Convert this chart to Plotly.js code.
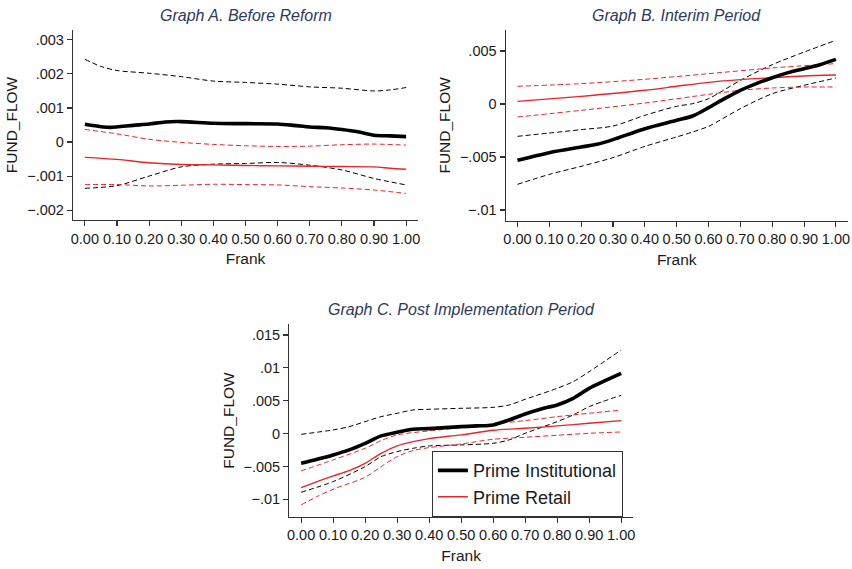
<!DOCTYPE html>
<html>
<head>
<meta charset="utf-8">
<script src="https://cdn.plot.ly/plotly-3.0.1.min.js"></script>
<style>html,body{margin:0;padding:0;background:#fff;}#chart{width:852px;height:569px;}</style>
</head>
<body>
<div id="chart"></div>
<script>
// ---------- Data ----------
const panelTitles = ["Graph A. Before Reform", "Graph B. Interim Period", "Graph C. Post Implementation Period"];
const seriesNames = ["Prime Institutional", "Prime Retail"];
const xTickVals = [0, 0.1, 0.2, 0.3, 0.4, 0.5, 0.6, 0.7, 0.8, 0.9, 1.0];
const xTickText = ["0.00","0.10","0.20","0.30","0.40","0.50","0.60","0.70","0.80","0.90","1.00"];

// Graph A
const frankA_inst = [0, 0.05, 0.08, 0.15, 0.2, 0.25, 0.3, 0.4, 0.5, 0.6, 0.65, 0.7, 0.75, 0.8, 0.85, 0.9, 0.95, 1.0];
const instA = [0.00052, 0.00045, 0.00043, 0.00049, 0.00053, 0.00059, 0.0006, 0.00055, 0.00054, 0.00053, 0.00049, 0.00044, 0.00042, 0.00037, 0.0003, 0.0002, 0.00018, 0.00016];
const frankA_instHi = [0, 0.05, 0.1, 0.2, 0.3, 0.4, 0.5, 0.6, 0.7, 0.8, 0.9, 0.95, 1.0];
const instA_hi = [0.00243, 0.00222, 0.0021, 0.00202, 0.00192, 0.00179, 0.00175, 0.0017, 0.00162, 0.00158, 0.0015, 0.00153, 0.0016];
const frankA_grid = [0, 0.1, 0.2, 0.3, 0.4, 0.5, 0.6, 0.7, 0.8, 0.9, 1.0];
const instA_lo = [-0.00136, -0.00128, -0.001, -0.00073, -0.00065, -0.00063, -0.0006, -0.00068, -0.00082, -0.00107, -0.00126];
const frankA_ret = [0, 0.1, 0.2, 0.3, 0.4, 0.5, 0.6, 0.7, 0.8, 0.9, 0.95, 1.0];
const retA = [-0.00045, -0.00051, -0.00061, -0.00066, -0.00067, -0.00069, -0.0007, -0.00071, -0.00072, -0.00073, -0.00077, -0.0008];
const retA_hi = [0.00037, 0.00024, 0.00008, -0.00001, -0.00007, -0.00011, -0.00013, -0.00012, -0.00008, -0.00006, -0.00009];
const retA_lo = [-0.00125, -0.00125, -0.00129, -0.00127, -0.00124, -0.00125, -0.00126, -0.00131, -0.00135, -0.00141, -0.00151];

// Graph B
const frankB_inst = [0, 0.1, 0.2, 0.25, 0.3, 0.4, 0.5, 0.55, 0.6, 0.65, 0.7, 0.75, 0.8, 0.85, 0.9, 0.95, 1.0];
const instB = [-0.00531, -0.00459, -0.00406, -0.0038, -0.00336, -0.00233, -0.00154, -0.00113, -0.00035, 0.0005, 0.00129, 0.00192, 0.00248, 0.00296, 0.00333, 0.00371, 0.00421];
const frankB_band = [0, 0.1, 0.2, 0.3, 0.4, 0.5, 0.55, 0.6, 0.7, 0.8, 0.9, 1.0];
const instB_hi = [-0.00305, -0.00274, -0.00242, -0.00208, -0.00107, -0.00022, 0.00003, 0.0005, 0.00223, 0.00371, 0.0049, 0.00601];
const instB_lo = [-0.00758, -0.00664, -0.00588, -0.00506, -0.004, -0.00311, -0.00264, -0.00211, -0.00044, 0.00097, 0.00176, 0.00245];
const frankB_ret = [0, 0.2, 0.4, 0.5, 0.6, 0.7, 0.8, 0.9, 1.0];
const retB = [0.00025, 0.00072, 0.00129, 0.00167, 0.00204, 0.0023, 0.00248, 0.00264, 0.00274];
const frankB_retHi = [0, 0.2, 0.4, 0.6, 0.8, 1.0];
const retB_hi = [0.00167, 0.00192, 0.00233, 0.00286, 0.0034, 0.00381];
const frankB_retLo = [0, 0.2, 0.4, 0.6, 0.7, 0.8, 0.9, 1.0];
const retB_lo = [-0.00123, -0.0006, 0.00009, 0.00091, 0.00129, 0.00151, 0.0016, 0.0016];

// Graph C
const frankC_inst = [0, 0.05, 0.1, 0.15, 0.2, 0.25, 0.3, 0.35, 0.4, 0.5, 0.55, 0.6, 0.65, 0.7, 0.75, 0.8, 0.85, 0.9, 0.95, 1.0];
const instC = [-0.00451, -0.0039, -0.00324, -0.00248, -0.00147, -0.00035, 0.0002, 0.00066, 0.00076, 0.00106, 0.00117, 0.00132, 0.00208, 0.00299, 0.00375, 0.00436, 0.00537, 0.00689, 0.00805, 0.00917];
const frankC_instHi = [0, 0.1, 0.15, 0.2, 0.25, 0.3, 0.35, 0.4, 0.5, 0.6, 0.65, 0.7, 0.8, 0.85, 0.9, 1.0];
const instC_hi = [-0.0001, 0.00056, 0.00106, 0.00182, 0.00258, 0.00309, 0.0036, 0.0037, 0.00385, 0.004, 0.00436, 0.00522, 0.00689, 0.0079, 0.00942, 0.01272];
const frankC_instLo = [0, 0.1, 0.2, 0.25, 0.3, 0.35, 0.4, 0.5, 0.6, 0.65, 0.7, 0.8, 0.85, 0.9, 1.0];
const instC_lo = [-0.00892, -0.0073, -0.00502, -0.0035, -0.00274, -0.00223, -0.00187, -0.00172, -0.00147, -0.00096, 0.00005, 0.00182, 0.00284, 0.0041, 0.00583];
const frankC_ret = [0, 0.05, 0.1, 0.15, 0.2, 0.25, 0.3, 0.35, 0.4, 0.5, 0.6, 0.7, 0.8, 0.9, 1.0];
const retC = [-0.00821, -0.0073, -0.00643, -0.00562, -0.00451, -0.00299, -0.00187, -0.00122, -0.00076, -0.0002, 0.00051, 0.00081, 0.00117, 0.00157, 0.00198];
const frankC_retHi = [0, 0.1, 0.2, 0.25, 0.3, 0.4, 0.5, 0.6, 0.7, 0.8, 0.9, 1.0];
const retC_hi = [-0.00567, -0.004, -0.00223, -0.00106, -0.0002, 0.00041, 0.00091, 0.00147, 0.00198, 0.00258, 0.00309, 0.0036];
const frankC_retLo = [0, 0.05, 0.1, 0.2, 0.25, 0.3, 0.35, 0.4, 0.5, 0.6, 0.7, 0.8, 0.9, 1.0];
const retC_lo = [-0.01084, -0.00957, -0.00846, -0.00664, -0.00502, -0.0035, -0.00258, -0.00213, -0.00157, -0.00086, -0.00056, -0.00025, 0.00005, 0.00025];

// y tick labels per panel
const yTickValsA = [0.003, 0.002, 0.001, 0, -0.001, -0.002];
const yTickTextA = [".003", ".002", ".001", "0", "\u2212.001", "\u2212.002"];
const yTickValsB = [0.005, 0, -0.005, -0.01];
const yTickTextB = [".005", "0", "\u2212.005", "\u2212.01"];
const yTickValsC = [0.015, 0.01, 0.005, 0, -0.005, -0.01];
const yTickTextC = [".015", ".01", ".005", "0", "\u2212.005", "\u2212.01"];

// ---------- Styles ----------
const BLACK = "#000000";
const RED = "#e8252b";
const FONT = "Liberation Sans, Arial, Helvetica, sans-serif";

function mainInst(x, y, xa, ya, show) {
  return {x, y, xaxis: xa, yaxis: ya, mode: "lines", name: seriesNames[0], showlegend: show, legendrank: 1,
          line: {color: BLACK, width: 3.6, shape: "spline", smoothing: 0.8}, hoverinfo: "skip"};
}
function mainRet(x, y, xa, ya, show) {
  return {x, y, xaxis: xa, yaxis: ya, mode: "lines", name: seriesNames[1], showlegend: show, legendrank: 2,
          line: {color: RED, width: 1.4, shape: "spline", smoothing: 0.8}, hoverinfo: "skip"};
}
function band(x, y, xa, ya, color) {
  return {x, y, xaxis: xa, yaxis: ya, mode: "lines", showlegend: false,
          line: {color, width: 1, dash: "5px,3px", shape: "spline", smoothing: 0.8}, hoverinfo: "skip"};
}

const traces = [
  band(frankA_instHi, instA_hi, "x", "y", BLACK),
  band(frankA_grid, instA_lo, "x", "y", BLACK),
  band(frankA_grid, retA_hi, "x", "y", RED),
  band(frankA_grid, retA_lo, "x", "y", RED),
  mainRet(frankA_ret, retA, "x", "y", false),
  mainInst(frankA_inst, instA, "x", "y", false),

  band(frankB_band, instB_hi, "x2", "y2", BLACK),
  band(frankB_band, instB_lo, "x2", "y2", BLACK),
  band(frankB_retHi, retB_hi, "x2", "y2", RED),
  band(frankB_retLo, retB_lo, "x2", "y2", RED),
  mainRet(frankB_ret, retB, "x2", "y2", false),
  mainInst(frankB_inst, instB, "x2", "y2", false),

  band(frankC_instHi, instC_hi, "x3", "y3", BLACK),
  band(frankC_instLo, instC_lo, "x3", "y3", BLACK),
  band(frankC_retHi, retC_hi, "x3", "y3", RED),
  band(frankC_retLo, retC_lo, "x3", "y3", RED),
  mainRet(frankC_ret, retC, "x3", "y3", true),
  mainInst(frankC_inst, instC, "x3", "y3", true)
];

const W = 852, H = 569;
function dx(a, b) { return [a / W, b / W]; }
function dy(top, bottom) { return [1 - bottom / H, 1 - top / H]; }

const axisCommon = {
  showline: true, linecolor: "#333333", linewidth: 1.2, ticks: "outside", ticklen: 5, tickwidth: 1.1,
  tickcolor: "#333333", showgrid: false, zeroline: false, mirror: false, fixedrange: true,
  tickfont: {family: FONT, size: 14.5, color: "#1a1a1a"}
};
function xAxis(domain, anchor) {
  return Object.assign({}, axisCommon, {domain, anchor, range: [-0.037, 1.037], tickvals: xTickVals, ticktext: xTickText,
    title: {text: "Frank", font: {family: FONT, size: 15.5, color: "#1a1a1a"}, standoff: 7}});
}
function yAxis(domain, anchor, range, tv, tt, standoff) {
  return Object.assign({}, axisCommon, {domain, anchor, range, tickvals: tv, ticktext: tt,
    title: {text: "FUND_FLOW", font: {family: FONT, size: 15.5, color: "#1a1a1a"}, standoff}});
}

const titleFont = {family: FONT, size: 16, color: "#2b3a5c", style: "italic"};

const layout = {
  width: W, height: H,
  margin: {l: 0, r: 0, t: 0, b: 0},
  paper_bgcolor: "#ffffff", plot_bgcolor: "#ffffff",
  font: {family: FONT},
  showlegend: true,
  xaxis: xAxis(dx(73, 418), "y"),
  yaxis: yAxis(dy(30, 220), "x", [-0.00229, 0.00329], yTickValsA, yTickTextA, 5),
  xaxis2: xAxis(dx(505.7, 847.7), "y2"),
  yaxis2: yAxis(dy(30, 220.7), "x2", [-0.01101, 0.00698], yTickValsB, yTickTextB, 5),
  xaxis3: xAxis(dx(289.3, 633), "y3"),
  yaxis3: yAxis(dy(324.3, 516.7), "x3", [-0.01264, 0.01663], yTickValsC, yTickTextC, 5),
  legend: {
    x: 431.7 / W, y: 1 - 451 / H, xanchor: "left", yanchor: "top",
    bordercolor: "#333333", borderwidth: 1.2, bgcolor: "#ffffff",
    font: {family: FONT, size: 18, color: "#1a1a1a"},
    itemwidth: 30, tracegroupgap: 0, traceorder: "normal"
  },
  annotations: [
    {text: panelTitles[0], xref: "paper", yref: "paper", x: 245.5 / W, y: 1 - 15 / H, xanchor: "center", yanchor: "middle", showarrow: false, font: titleFont},
    {text: panelTitles[1], xref: "paper", yref: "paper", x: 676.7 / W, y: 1 - 15 / H, xanchor: "center", yanchor: "middle", showarrow: false, font: titleFont},
    {text: panelTitles[2], xref: "paper", yref: "paper", x: 461 / W, y: 1 - 309 / H, xanchor: "center", yanchor: "middle", showarrow: false, font: titleFont}
  ]
};

Plotly.newPlot("chart", traces, layout, {staticPlot: true, displayModeBar: false});
</script>
</body>
</html>
